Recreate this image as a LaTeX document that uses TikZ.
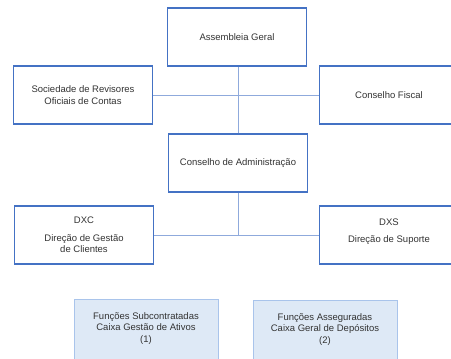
\documentclass[tikz,border=0pt]{standalone}
\usepackage{fontspec}
\setmainfont{Liberation Sans}
\definecolor{boxline}{HTML}{4472C4}
\definecolor{linkline}{HTML}{8FAADC}
\definecolor{funcline}{HTML}{A9C4EB}
\definecolor{funcfill}{HTML}{DEE9F6}
\definecolor{txt}{HTML}{333333}
\begin{document}
\begin{tikzpicture}
            [
                x=1pt, y=-1pt,
                orgbox/.style={draw=boxline, line width=1.2pt, fill=white, text=txt,
                    minimum width=139pt, minimum height=58pt, align=center,
                    font=\fontsize{9.5}{11.5}\selectfont, inner sep=2pt},
                funcbox/.style={orgbox, draw=funcline, line width=0.8pt, fill=funcfill,
                    minimum width=144pt, minimum height=62pt},
                link/.style={draw=linkline, line width=0.9pt}
            ]
            \useasboundingbox (0,0) rectangle (451,359);
            \clip (0,0) rectangle (451,359);
            % top level
            \node[orgbox] (ag) at (237,37) {Assembleia Geral};
            \node[orgbox] (srv) at (83,95) {Sociedade de Revisores\\Oficiais de Contas};
            \node[orgbox] (cf) at (389,95) {Conselho Fiscal};
            \node[orgbox] (ca) at (238,163) {Conselho de Administração};
            % directions
            \node[orgbox] (dxc) at (84,235) {DXC\\[6pt]Direção de Gestão\\de Clientes};
            \node[orgbox] (dxs) at (389,235) {DXS\\[6pt]Direção de Suporte\\[-3pt]\mbox{}};
            % functions
            \node[funcbox] (fsub) at (146,330) {\mbox{}\\[-8pt]Funções Subcontratadas\\Caixa Gestão de Ativos\\(1)};
            \node[funcbox] (fass) at (325,331) {\mbox{}\\[-8pt]Funções Asseguradas\\Caixa Geral de Depósitos\\(2)};
            % connectors
            \draw[link] (ca.north) -- (ca.north |- ag.south);
            \draw[link] (srv.east) -- (cf.west);
            \draw[link] (ca.south) -- (ca.south |- dxc.east);
            \draw[link] (dxc.east) -- (dxs.west);
\end{tikzpicture}
\end{document}
